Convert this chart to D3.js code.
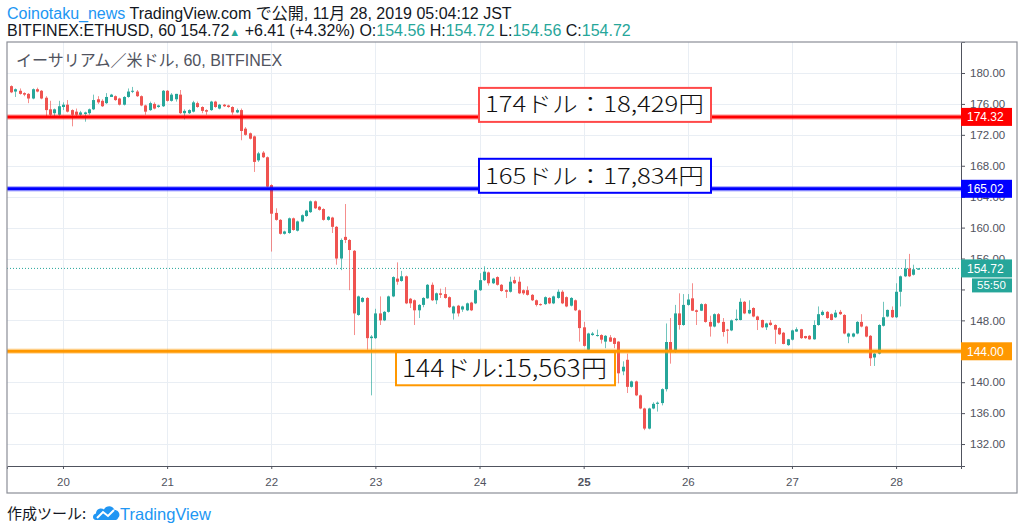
<!DOCTYPE html>
<html>
<head>
<meta charset="utf-8">
<script src="https://cdn.jsdelivr.net/npm/d3@7"></script>
<style>
  body { margin: 0; background: #fff; }
  svg { display: block; font-family: "Liberation Sans", "Noto Sans CJK JP", sans-serif; }
</style>
</head>
<body>
<svg id="chart" width="1024" height="530"></svg>
<script>
// hourly candles, BITFINEX ETHUSD 60, first candle 19 Nov 12:00 JST
var firstHour = new Date(2019, 10, 19, 12);

var opens = [
  178.3,177.6,177.7,177.4,177.3,176.7,177.9,177.7,176.8,175.3,
  174.8,174.6,175.6,175.9,175.2,175.0,174.6,174.7,174.8,175.3,
  176.6,176.4,176.1,176.9,177.0,176.7,175.9,176.9,177.6,177.6,
  177.0,175.8,175.2,176.0,175.6,175.7,177.7,176.4,176.6,177.2,
  174.8,174.8,175.0,176.1,175.6,175.2,175.2,176.3,175.4,175.9,
  175.8,175.6,174.9,175.2,172.8,172.2,171.8,168.7,169.7,169.1,
  165.5,161.9,161.0,159.2,159.3,161.2,159.6,160.8,161.5,162.0,
  163.4,162.7,162.4,161.0,161.3,160.1,156.0,158.8,158.4,157.0,
  148.7,150.4,150.9,145.7,145.7,148.9,148.0,149.1,151.1,153.4,
  153.1,153.7,150.8,150.6,149.3,150.0,150.85,152.6,150.6,151.5,
  151.4,151.0,148.9,149.9,149.4,149.3,150.3,150.2,151.9,153.2,
  154.2,152.8,153.6,152.6,151.9,151.7,153.2,153.0,151.9,151.9,
  151.3,150.6,150.1,150.1,150.9,150.2,150.9,151.7,151.0,149.9,
  150.6,149.3,147.1,144.2,146.1,146.0,146.1,145.25,145.8,145.7,
  145.25,141.4,142.9,139.4,140.1,138.3,136.6,134.0,136.6,137.2,
  137.3,139.1,145.2,143.9,148.9,147.4,150.0,150.85,149.3,149.25,
  150.1,147.8,147.2,148.8,147.8,146.8,146.7,148.05,148.05,150.4,
  148.9,149.6,148.5,148.05,147.1,147.7,147.4,147.0,146.4,144.8,
  145.5,146.55,146.85,145.97,146.0,145.55,147.4,148.7,149.1,148.8,
  148.4,149.1,148.7,145.9,145.9,146.3,147.8,147.2,146.0,143.2,
  143.7,147.3,148.5,149.35,148.4,151.7,153.7,154.7,153.9,154.56
];
var highs = [
  178.4,178.0,178.0,177.5,177.4,178.0,178.1,177.8,177.0,176.4,
  175.4,176.4,176.2,176.5,175.3,175.4,175.1,175.0,175.4,177.2,
  177.0,176.6,177.4,177.3,177.1,176.8,177.0,178.0,178.2,177.8,
  177.1,175.9,176.3,176.2,175.9,177.8,177.8,177.4,177.3,177.8,
  175.3,175.3,176.4,176.3,175.7,175.3,176.4,176.4,176.0,176.0,
  175.9,175.7,175.4,175.4,173.0,172.3,171.9,169.8,169.9,169.2,
  165.6,162.5,161.1,159.6,161.3,161.3,160.9,161.7,162.3,163.5,
  163.5,162.8,162.5,161.5,161.4,160.2,158.6,163.05,158.5,157.1,
  151.2,151.0,151.0,146.1,149.5,151.1,149.2,151.2,153.7,155.5,
  154.4,153.8,150.9,150.7,150.1,151.0,152.7,152.9,151.6,152.1,
  152.3,151.1,149.9,150.0,149.9,150.3,150.4,152.0,154.1,155.0,
  154.3,153.5,153.7,152.7,152.0,153.65,153.65,153.65,152.0,152.4,
  151.4,150.7,150.2,151.1,151.0,151.2,152.0,151.9,151.1,151.0,
  150.7,149.4,147.8,146.4,146.5,146.8,146.2,146.1,146.1,145.8,
  145.3,142.7,143.7,140.2,140.2,138.4,136.7,136.7,137.4,137.5,
  139.2,147.6,148.3,150.0,151.5,151.4,151.4,152.8,149.4,150.2,
  150.2,148.6,148.9,148.95,148.3,146.9,148.1,149.4,150.85,150.5,
  150.6,149.7,148.6,148.1,147.7,148.05,147.5,147.1,146.5,145.6,
  146.8,147.1,146.9,146.0,146.1,148.0,149.8,149.3,149.2,148.9,
  149.35,149.35,148.8,146.4,146.4,147.9,148.8,147.3,146.1,143.8,
  147.5,150.4,149.4,149.8,152.8,153.8,155.9,156.6,155.2,154.72
];
var lows = [
  177.4,176.9,177.2,177.0,176.1,176.6,177.5,176.6,174.4,174.4,
  174.4,174.4,175.2,174.9,173.1,174.4,174.4,173.7,174.6,175.2,
  176.0,175.6,176.0,176.9,176.4,175.8,175.8,176.8,177.4,176.9,
  175.7,174.6,175.1,175.3,175.5,175.6,176.3,176.3,176.3,174.7,
  174.0,174.7,174.9,175.5,174.8,174.6,175.1,175.5,175.3,175.6,
  175.5,174.6,174.8,171.3,171.9,171.4,167.2,168.5,169.0,165.2,
  156.9,160.9,159.1,159.1,159.2,159.6,159.5,160.7,161.4,161.9,
  162.4,162.2,160.9,160.9,159.3,155.2,154.5,158.0,151.9,146.1,
  148.6,150.3,144.2,138.3,145.6,147.4,147.9,149.0,151.0,152.6,
  153.0,150.1,149.6,147.4,148.3,149.7,150.8,150.5,150.1,150.9,
  150.8,149.6,148.1,148.5,149.1,149.2,149.2,150.1,151.8,153.1,
  152.5,152.7,152.5,151.7,150.9,151.6,152.7,151.4,151.3,151.2,
  150.5,149.8,149.9,150.0,150.1,150.1,150.8,150.1,149.7,149.8,
  149.2,145.25,144.6,142.9,146.0,145.9,145.0,144.4,145.2,144.4,
  139.85,140.9,138.6,139.3,138.2,136.5,133.8,133.9,136.5,136.2,
  137.0,138.8,142.4,143.8,146.8,147.3,149.9,149.2,147.4,149.2,
  147.7,145.9,147.1,147.6,145.9,145.0,146.6,147.9,148.0,148.8,
  148.8,148.4,146.75,147.0,146.75,147.3,144.95,146.1,144.9,144.7,
  145.4,146.5,145.6,145.6,145.5,145.5,147.3,148.6,148.2,148.0,
  148.3,148.7,146.2,145.05,145.8,146.2,147.1,145.8,142.1,142.1,
  143.6,147.2,148.4,148.3,148.3,149.8,153.6,153.6,153.8,154.56
];
var closes = [
  177.5,177.9,177.3,177.2,176.7,177.9,177.6,176.7,175.2,174.6,
  175.3,175.7,175.9,175.0,174.6,174.6,174.9,174.9,175.3,176.5,
  176.2,175.7,176.9,177.2,176.5,175.9,176.9,177.6,177.7,177.0,
  175.8,175.0,176.1,175.4,175.8,177.7,176.4,177.2,177.3,174.8,
  175.1,175.2,176.2,175.6,175.1,175.0,176.3,175.6,175.9,175.7,
  175.6,174.9,175.2,172.5,172.0,171.5,168.5,169.6,169.1,165.3,
  161.8,161.0,159.2,159.5,161.2,159.7,160.8,161.6,162.2,163.4,
  162.5,162.3,161.0,161.4,160.1,156.0,158.4,158.4,157.1,148.9,
  151.1,150.9,145.7,145.9,148.9,148.0,149.1,151.1,153.6,153.0,
  153.7,150.2,150.2,149.3,150.0,150.9,152.6,150.6,151.5,151.3,
  150.9,149.7,149.8,148.9,149.8,150.2,149.3,151.9,153.2,154.3,
  152.8,153.4,152.6,151.8,151.7,153.0,152.8,151.5,151.5,151.3,
  150.6,150.0,150.0,151.0,150.2,151.1,151.7,150.2,149.8,150.9,
  149.3,147.0,144.7,146.3,146.3,146.1,145.5,146.0,145.25,144.95,
  141.15,142.0,139.4,140.1,138.3,136.6,134.0,136.6,137.2,137.35,
  139.1,145.2,143.9,148.9,147.4,150.0,150.7,149.25,149.1,150.1,
  147.8,147.2,148.8,147.7,146.5,146.7,148.0,148.2,150.4,148.9,
  149.35,148.5,148.05,147.1,147.6,147.4,146.8,146.2,144.95,145.55,
  146.7,146.85,145.7,145.7,145.55,147.4,148.8,149.1,148.3,148.05,
  149.0,148.8,146.3,146.3,146.3,147.8,147.2,145.9,143.1,143.7,
  147.4,148.4,149.35,148.4,151.7,153.7,154.7,153.7,154.6,154.72
];

var priceTicks = [132, 136, 140, 144, 148, 152, 156, 160, 164, 168, 172, 176, 180];
var levelPrices = [174.32, 165.02, 144.00];
var levelNotes = ["174ドル：18,429円", "165ドル：17,834円", "144ドル:15,563円"];
var countdown = "55:50";

// ---- layout / style ----
var plotL = 7, plotR = 961, plotT = 42, plotB = 466;
var upColor = "#26a69a", downColor = "#ef5350";
var levelColors = ["#ff0000", "#0000ff", "#ff9800"];
var noteStroke = ["#ff4a4a", "#0000ff", "#ff9800"];

var svg = d3.select("#chart");

var candles = closes.map(function(c, i) {
  return { t: d3.timeHour.offset(firstHour, i), o: opens[i], h: highs[i], l: lows[i], c: c };
});
var lastClose = closes[closes.length - 1];

var hourMs = 3600 * 1000;
var x = d3.scaleTime()
  .domain([new Date(+firstHour - 0.9 * hourMs), new Date(+firstHour + 218.96 * hourMs)])
  .range([plotL, plotR]);
var y = d3.scaleLinear().domain([129.16, 184.01]).range([plotB, plotT]);

var dayTicks = x.ticks(d3.timeDay.every(1)).filter(function(d) { return x(d) > plotL + 5; });

// grid
var grid = svg.append("g").attr("stroke", "#e9eef4").attr("stroke-width", 1);
grid.selectAll(".hg").data(priceTicks).enter().append("line")
  .attr("x1", plotL).attr("x2", plotR)
  .attr("y1", function(d) { return Math.round(y(d)) + 0.5; })
  .attr("y2", function(d) { return Math.round(y(d)) + 0.5; });
grid.selectAll(".vg").data(dayTicks).enter().append("line")
  .attr("y1", plotT).attr("y2", plotB)
  .attr("x1", function(d) { return Math.round(x(d)) + 0.5; })
  .attr("x2", function(d) { return Math.round(x(d)) + 0.5; });

// legend
svg.append("text").attr("x", 16).attr("y", 66)
  .attr("font-size", 16).attr("fill", "#50535e")
  .text("イーサリアム／米ドル, 60, BITFINEX");

svg.append("clipPath").attr("id", "plot")
  .append("rect").attr("x", plotL).attr("y", plotT).attr("width", plotR - plotL).attr("height", plotB - plotT);

var plot = svg.append("g").attr("clip-path", "url(#plot)");

// last price dotted line
plot.append("line")
  .attr("x1", plotL).attr("x2", plotR)
  .attr("y1", y(lastClose)).attr("y2", y(lastClose))
  .attr("stroke", upColor).attr("stroke-width", 1).attr("stroke-dasharray", "1,2");

// candles
var bodyW = 3;
var cg = plot.selectAll(".candle").data(candles).enter().append("g");
cg.append("line")
  .attr("x1", function(d) { return Math.round(x(d.t)) + 0.5; })
  .attr("x2", function(d) { return Math.round(x(d.t)) + 0.5; })
  .attr("y1", function(d) { return y(d.h); })
  .attr("y2", function(d) { return y(d.l); })
  .attr("stroke", function(d) { return d.c >= d.o ? upColor : downColor; })
  .attr("stroke-opacity", 0.65)
  .attr("stroke-width", 1);
cg.append("rect")
  .attr("x", function(d) { return Math.round(x(d.t)) - 1; })
  .attr("width", bodyW)
  .attr("y", function(d) { return y(Math.max(d.o, d.c)); })
  .attr("height", function(d) { return Math.max(1, Math.abs(y(d.o) - y(d.c))); })
  .attr("fill", function(d) { return d.c >= d.o ? upColor : downColor; });

// horizontal levels
levelPrices.forEach(function(p, i) {
  plot.append("line").attr("x1", plotL).attr("x2", plotR)
    .attr("y1", y(p)).attr("y2", y(p))
    .attr("stroke", levelColors[i]).attr("stroke-opacity", 0.3).attr("stroke-width", 5.5);
  plot.append("line").attr("x1", plotL).attr("x2", plotR)
    .attr("y1", y(p)).attr("y2", y(p))
    .attr("stroke", levelColors[i]).attr("stroke-width", 3);
});

// note boxes
var notes = [
  { i: 0, x: 479, w: 232, top: -29, h: 34, tx: 485, tl: 219, base: -5, fs: 22 },
  { i: 1, x: 479, w: 232, top: -30, h: 34, tx: 485, tl: 219, base: -5, fs: 22 },
  { i: 2, x: 396, w: 219, top: 1, h: 33, tx: 402, tl: 205, base: 26, fs: 24 }
];
notes.forEach(function(n) {
  var yy = y(levelPrices[n.i]);
  svg.append("rect").attr("x", n.x).attr("y", yy + n.top).attr("width", n.w).attr("height", n.h)
    .attr("fill", "#fff").attr("stroke", noteStroke[n.i]).attr("stroke-width", 2);
  svg.append("text").attr("x", n.tx).attr("y", yy + n.base)
    .attr("font-family", "'Noto Sans CJK JP', sans-serif")
    .attr("font-size", n.fs).attr("font-weight", 300).attr("fill", "#111")
    .attr("textLength", n.tl).attr("lengthAdjust", "spacingAndGlyphs")
    .text(levelNotes[n.i]);
});

// axes
var yAxis = svg.append("g").attr("transform", "translate(" + plotR + ",0)")
  .call(d3.axisRight(y).tickValues(priceTicks).tickSize(4).tickPadding(5).tickFormat(d3.format(".2f")));
var xAxis = svg.append("g").attr("transform", "translate(0," + plotB + ")")
  .call(d3.axisBottom(x).tickValues(dayTicks).tickSize(3).tickPadding(9).tickFormat(d3.timeFormat("%-d")));
[yAxis, xAxis].forEach(function(a) {
  a.select(".domain").attr("stroke", "#50535e");
  a.selectAll(".tick line").attr("stroke", "#50535e");
  a.selectAll(".tick text").attr("fill", "#50535e").attr("font-size", 11.5)
    .attr("font-family", "'Liberation Sans', sans-serif");
});
xAxis.selectAll(".tick text").attr("font-weight", function(d) { return d.getDay() === 1 ? "bold" : null; });

// tick labels fully hidden behind a price tag are dropped
var tagYs = levelPrices.map(y).concat([y(lastClose) + 17]);
yAxis.selectAll(".tick text").filter(function(d) {
  return tagYs.some(function(t) { return Math.abs(y(d) - t) < 6; });
}).remove();

// axis price labels
function priceTag(p, color) {
  svg.append("rect").attr("x", plotR).attr("y", y(p) - 9).attr("width", 51).attr("height", 18).attr("fill", color);
  svg.append("text").attr("x", plotR + 6).attr("y", y(p) + 4.5)
    .attr("font-size", 12).attr("fill", "#fff").text(d3.format(".2f")(p));
}
levelPrices.forEach(function(p, i) { priceTag(p, levelColors[i]); });
priceTag(lastClose, upColor);
var cy = y(lastClose) + 10;
svg.append("rect").attr("x", 972).attr("y", cy).attr("width", 40).attr("height", 14).attr("fill", upColor);
svg.append("text").attr("x", 977).attr("y", cy + 11).attr("font-size", 11.5).attr("fill", "#fff").text(countdown);

// frame
svg.append("rect").attr("x", plotL).attr("y", plotT).attr("width", 1017 - plotL).attr("height", 493 - plotT)
  .attr("fill", "none").attr("stroke", "#8b8e97").attr("stroke-width", 1.2);

// header
var h1 = svg.append("text").attr("x", 7).attr("y", 19).attr("font-size", 16).attr("fill", "#131722");
h1.append("tspan").attr("fill", "#2196f3").text("Coinotaku_news");
h1.append("tspan").text(" TradingView.com で公開, 11月 28, 2019 05:04:12 JST");

var h2 = svg.append("text").attr("x", 7).attr("y", 36).attr("font-size", 16).attr("fill", "#131722");
var parts = [
  ["BITFINEX:ETHUSD, 60 154.72", null], ["▲", upColor], [" +6.41 (+4.32%) O:", null], ["154.56", upColor],
  [" H:", null], ["154.72", upColor], [" L:", null], ["154.56", upColor], [" C:", null], ["154.72", upColor]
];
parts.forEach(function(p) {
  var t = h2.append("tspan").text(p[0]).attr("fill", p[1] || "#131722");
  if (p[0] === "▲") t.attr("font-size", 11);
});

// footer
svg.append("text").attr("x", 7).attr("y", 519).attr("font-size", 15).attr("fill", "#131722")
  .attr("font-family", "'Noto Sans CJK JP', sans-serif").text("作成ツール:");
var logo = svg.append("g").attr("transform", "translate(93,505)");
logo.append("path").attr("fill", "#2196f3")
  .attr("d", "M3,15 C-1,15 -1,9 3,8.5 C3,4 8,2 11,4.5 C13,0 20,0 21.5,5 C26,5 28,10 25,13 C24.5,14.5 23.5,15 22,15 Z");
logo.append("path").attr("fill", "none").attr("stroke", "#fff").attr("stroke-width", 2)
  .attr("d", "M4,13 L10,7 L15,11 L21,5");
svg.append("text").attr("x", 120).attr("y", 520).attr("font-size", 16.5).attr("fill", "#2196f3")
  .text("TradingView");
</script>
</body>
</html>
